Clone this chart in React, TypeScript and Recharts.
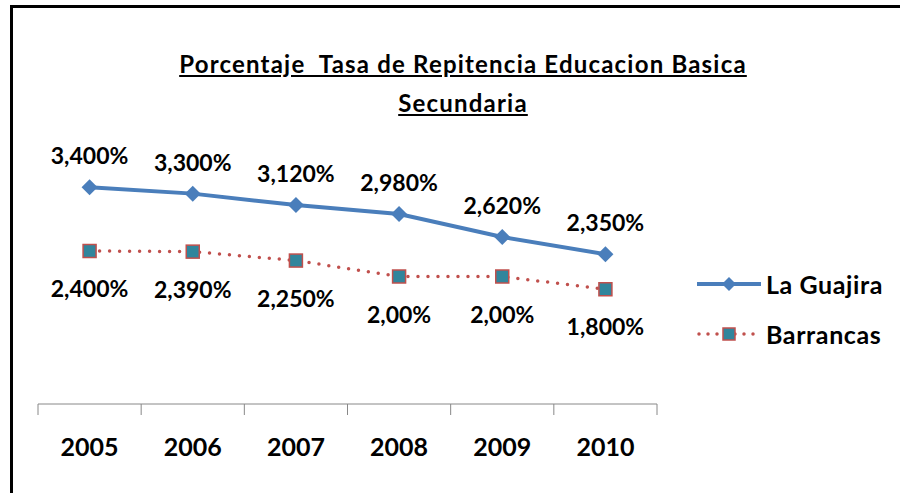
import { LineChart, Line, XAxis, YAxis, LabelList } from 'recharts';

const YEARS = ['2005', '2006', '2007', '2008', '2009', '2010'];
const GUAJIRA = [3.4, 3.3, 3.12, 2.98, 2.62, 2.35];
const BARRANCAS = [2.4, 2.39, 2.25, 2.0, 2.0, 1.8];
const GUAJIRA_LABELS = ['3,400%', '3,300%', '3,120%', '2,980%', '2,620%', '2,350%'];
const BARRANCAS_LABELS = ['2,400%', '2,390%', '2,250%', '2,00%', '2,00%', '1,800%'];

const W = 900;
const H = 493;
const MARGIN = { top: 149, right: 243, bottom: 29, left: 38 };
const BAND = (W - MARGIN.left - MARGIN.right) / YEARS.length;
const FONT = 'Lato, "Open Sans", sans-serif';
const BLUE = '#4a7ebb';
const RED = '#c0504d';
const TEAL = '#31859c';

const data = YEARS.map((year, i) => ({
  year,
  guajira: GUAJIRA[i],
  barrancas: BARRANCAS[i],
  gLabel: GUAJIRA_LABELS[i],
  bLabel: BARRANCAS_LABELS[i],
}));

function Diamond({ cx, cy, size = 8 }: { cx?: number; cy?: number; size?: number }) {
  if (cx == null || cy == null) return null;
  const s = size;
  return <path d={`M${cx},${cy - s}L${cx + s},${cy}L${cx},${cy + s}L${cx - s},${cy}Z`} fill={BLUE} />;
}

function Square({ cx, cy, size = 6.5 }: { cx?: number; cy?: number; size?: number }) {
  if (cx == null || cy == null) return null;
  return (
    <rect x={cx - size} y={cy - size} width={size * 2} height={size * 2} fill={TEAL} stroke={RED} strokeWidth={1.5} />
  );
}

// Excel-style: tick marks sit on the category boundaries, labels in the middle.
function YearTick(props: any) {
  const { x, y, payload, index } = props;
  const left = x - BAND / 2;
  return (
    <g>
      <line x1={left} y1={y - 8} x2={left} y2={y + 3} stroke="#888" />
      {index === YEARS.length - 1 && (
        <line x1={left + BAND} y1={y - 8} x2={left + BAND} y2={y + 3} stroke="#888" />
      )}
      <text x={x} y={y + 44} textAnchor="middle" fontFamily={FONT} fontWeight={700} fontSize={25} fill="#000">
        {payload.value}
      </text>
    </g>
  );
}

function PointLabel({ x, y, value, dy }: any) {
  return (
    <text x={x} y={y + dy} textAnchor="middle" fontFamily={FONT} fontWeight={700} fontSize={23} fill="#000">
      {value}
    </text>
  );
}

function LegendBox() {
  const row = (name: string, line: React.ReactNode) => (
    <div style={{ display: 'flex', alignItems: 'center', height: 50 }}>
      <svg width={70} height={20}>{line}</svg>
      <span style={{ fontFamily: FONT, fontWeight: 700, fontSize: 25, letterSpacing: 0.6, marginLeft: 1 }}>{name}</span>
    </div>
  );
  return (
    <div style={{ position: 'absolute', left: 695, top: 259, width: 205 }}>
      {row(
        'La Guajira',
        <g>
          <line x1={2} y1={10} x2={66} y2={10} stroke={BLUE} strokeWidth={4} />
          <Diamond cx={34} cy={10} size={7} />
        </g>,
      )}
      {row(
        'Barrancas',
        <g>
          <line x1={4} y1={10} x2={66} y2={10} stroke={RED} strokeWidth={3.5} strokeDasharray="0 9" strokeLinecap="round" />
          <Square cx={34} cy={10} size={6} />
        </g>,
      )}
    </div>
  );
}

export default function App() {
  return (
    <div style={{ position: 'relative', width: W, height: H, background: '#fff', overflow: 'hidden' }}>
      <style>{'body{margin:0}'}</style>
      <LineChart width={W} height={H} data={data} margin={MARGIN}>
        <XAxis
          dataKey="year"
          scale="band"
          height={60}
          axisLine={{ stroke: '#888' }}
          tickLine={false}
          tick={<YearTick />}
          interval={0}
        />
        <YAxis hide domain={[0, 4]} />
        <Line
          dataKey="guajira"
          name="La Guajira"
          stroke={BLUE}
          strokeWidth={4}
          dot={<Diamond />}
          activeDot={false}
          isAnimationActive={false}
        >
          <LabelList dataKey="gLabel" content={(p: any) => <PointLabel {...p} dy={-23} />} />
        </Line>
        <Line
          dataKey="barrancas"
          name="Barrancas"
          stroke={RED}
          strokeWidth={3.5}
          strokeDasharray="0 10"
          strokeLinecap="round"
          dot={<Square />}
          activeDot={false}
          isAnimationActive={false}
        >
          <LabelList dataKey="bLabel" content={(p: any) => <PointLabel {...p} dy={46} />} />
        </Line>
      </LineChart>
      <LegendBox />
      <div
        style={{
          position: 'absolute',
          left: 0,
          top: 44,
          width: 926,
          textAlign: 'center',
          fontFamily: FONT,
          fontWeight: 700,
          fontSize: 24,
          letterSpacing: 1.2,
          lineHeight: '39px',
          textDecoration: 'underline',
        }}
      >
        Porcentaje&nbsp; Tasa de Repitencia Educacion Basica
        <br />
        Secundaria
      </div>
      {/* frame only shows on the top and left edges in the original */}
      <div
        style={{
          position: 'absolute',
          left: 10,
          top: 5,
          right: 0,
          bottom: 0,
          borderTop: '3px solid #000',
          borderLeft: '3px solid #000',
          pointerEvents: 'none',
        }}
      />
    </div>
  );
}
